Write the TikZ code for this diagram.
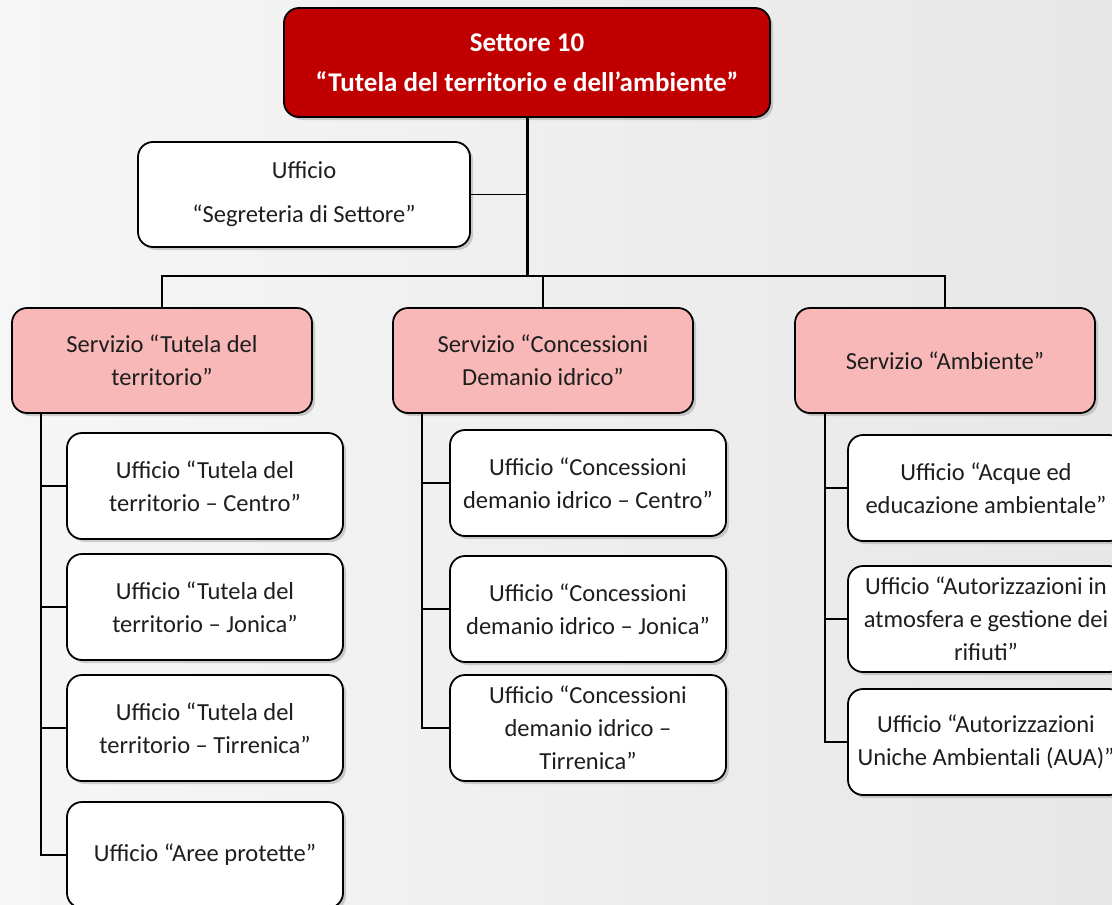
\documentclass[tikz,border=0pt]{standalone}
\usepackage{fontspec}
\setmainfont{Carlito}
\usetikzlibrary{shadows}

\definecolor{settore}{HTML}{C00000}
\definecolor{servizio}{HTML}{F8B8B8}
\definecolor{testo}{HTML}{1E1E1E}

\begin{document}
\begin{tikzpicture}[x=1pt,y=-1pt]
    \tikzset{
        box/.style={draw=black, line width=1.8pt, rounded corners=15pt, align=center, text=testo,
            font=\fontsize{24.5}{33}\selectfont, inner sep=0pt,
            drop shadow={opacity=0.35, shadow xshift=3pt, shadow yshift=-3pt}},
        settore/.style={box, fill=settore, text=white, font=\bfseries\fontsize{27}{33}\selectfont,
            minimum width=486pt, minimum height=109pt},
        servizio/.style={box, fill=servizio, minimum width=300pt, minimum height=105pt},
        ufficio/.style={box, fill=white, minimum width=276pt, minimum height=106pt},
        link/.style={line width=1.8pt}
    }
    \useasboundingbox (0,0) rectangle (1112,905);
    \clip (0,0) rectangle (1112,905);
    \shade[left color=gray!7, right color=gray!19] (0,0) rectangle (1112,905);

    \node[settore] (top) at (527,62.5) {Settore 10\\[7pt]“Tutela del territorio e dell’ambiente”};
    \node[ufficio, minimum width=332pt, minimum height=105pt] (segr) at (304,194.5)
        {Ufficio\\[11pt]“Segreteria di Settore”};

    \node[servizio] (s1) at (162,360.5) {Servizio “Tutela del\\territorio”};
    \node[servizio] (s2) at (543,360.5) {Servizio “Concessioni\\Demanio idrico”};
    \node[servizio] (s3) at (945,360.5) {Servizio “Ambiente”};

    \node[ufficio] (u11) at (205,486) {Ufficio “Tutela del\\territorio – Centro”};
    \node[ufficio] (u12) at (205,607) {Ufficio “Tutela del\\territorio – Jonica”};
    \node[ufficio] (u13) at (205,728) {Ufficio “Tutela del\\territorio – Tirrenica”};
    \node[ufficio] (u14) at (205,855) {Ufficio “Aree protette”};

    \node[ufficio] (u21) at (588,483) {Ufficio “Concessioni\\demanio idrico – Centro”};
    \node[ufficio] (u22) at (588,609) {Ufficio “Concessioni\\demanio idrico – Jonica”};
    \node[ufficio] (u23) at (588,728) {Ufficio “Concessioni\\demanio idrico –\\Tirrenica”};

    \node[ufficio] (u31) at (986,488) {Ufficio “Acque ed\\educazione ambientale”};
    \node[ufficio] (u32) at (986,619) {Ufficio “Autorizzazioni in\\atmosfera e gestione dei\\rifiuti”};
    \node[ufficio] (u33) at (986,742) {Ufficio “Autorizzazioni\\Uniche Ambientali (AUA)”};

    \coordinate (bus) at (527,276);
    \draw[link, line width=3pt] (top.south) -- (bus);
    \draw[link] (segr.east) -- (segr.east -| top.south);
    \draw[link] (s1.north) -- (s1.north |- bus) -- (s3.north |- bus) -- (s3.north);
    \draw[link] (s2.north) -- (s2.north |- bus);

    \coordinate (v1) at ([xshift=30pt]s1.south west);
    \coordinate (v2) at ([xshift=30pt]s2.south west);
    \coordinate (v3) at ([xshift=31pt]s3.south west);
    \draw[link] (v1) |- (u14.west);
    \foreach \u in {u11,u12,u13}
        \draw[link] (\u.west) -- (\u.west -| v1);
    \draw[link] (v2) |- (u23.west);
    \foreach \u in {u21,u22}
        \draw[link] (\u.west) -- (\u.west -| v2);
    \draw[link] (v3) |- (u33.west);
    \foreach \u in {u31,u32}
        \draw[link] (\u.west) -- (\u.west -| v3);
\end{tikzpicture}
\end{document}
